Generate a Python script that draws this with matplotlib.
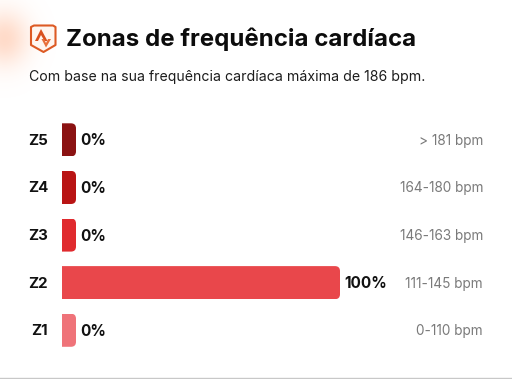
import numpy as np
import matplotlib
matplotlib.use("Agg")
import matplotlib.pyplot as plt
from matplotlib.patches import Polygon, PathPatch
from matplotlib.path import Path

W, H = 512, 379

zones = ["Z5", "Z4", "Z3", "Z2", "Z1"]
percent = [0, 0, 0, 100, 0]
percent_labels = ["0%", "0%", "0%", "100%", "0%"]
ranges = ["> 181 bpm", "164-180 bpm", "146-163 bpm", "111-145 bpm", "0-110 bpm"]
colors = ["#8b1212", "#b91414", "#e02a2e", "#e9474b", "#ef7379"]

plt.rcParams["font.family"] = ["Inter", "DejaVu Sans"]

fig = plt.figure(figsize=(W / 100, H / 100), dpi=100, facecolor="white")

# overlay in pixel coords for header and text
bg = fig.add_axes([0, 0, 1, 1])
bg.set_xlim(0, W)
bg.set_ylim(H, 0)
bg.axis("off")

# peach glow on the left of the header
yy, xx = np.mgrid[0:110, 0:90]
glow = np.exp(-(((xx - 4) / 24.0) ** 2 + ((yy - 38) / 27.0) ** 2))
rgba = np.zeros((110, 90, 4))
rgba[..., 0] = 1.0
rgba[..., 1] = 0.72
rgba[..., 2] = 0.58
rgba[..., 3] = 0.5 * glow
bg.imshow(rgba, extent=(0, 90, 110, 0), aspect="auto", zorder=0)
bg.set_xlim(0, W)
bg.set_ylim(H, 0)

# badge
shield = [(31, 27), (34, 25.5), (53, 25.5), (55.5, 27), (55.5, 45), (43.5, 52), (31, 45)]
bg.add_patch(Polygon(shield, closed=True, fc="#fff6f0", ec="#dd5a24", lw=1.5, joinstyle="round"))
bg.add_patch(Polygon([(41, 29), (47.5, 41), (44.5, 41), (41, 35), (38, 41), (35, 41)], closed=True, fc="#d9501e", ec="none"))
bg.add_patch(Polygon([(44, 39), (46, 43), (48, 39), (51, 39), (46, 47.5), (41.5, 39)], closed=True, fc="#e8703a", ec="none"))

bg.text(66.5, 39, "Zonas de frequência cardíaca", fontsize=17.3, fontweight="bold", color="#0c0c0c", va="center", ha="left")
bg.text(29, 77, "Com base na sua frequência cardíaca máxima de 186 bpm.", fontsize=10.15, color="#1c1c1c", va="center", ha="left")

# bars axes: x runs 0-100 percent over 62-340 px
ax = fig.add_axes([62 / W, 1 - 355 / H, (340 - 62) / W, (355 - 117) / H])
ax.set_xlim(0, 100)
ax.set_ylim(4.52, -0.48)
ax.axis("off")
ax.patch.set_alpha(0)

stub = 14 / 278 * 100
bar_h = 0.695
ys = np.arange(len(zones))
bars = ax.barh(ys, [max(p, stub) for p in percent], height=bar_h, color=colors, linewidth=0)

# round the right corners of each bar
rx = 5 / 278 * 100
ry = 5 / 47.6
for rect in bars:
    x0, y0 = rect.get_x(), rect.get_y()
    x1, y1 = x0 + rect.get_width(), y0 + rect.get_height()
    verts = [(x0, y0), (x1 - rx, y0), (x1, y0), (x1, y0 + ry), (x1, y1 - ry), (x1, y1), (x1 - rx, y1), (x0, y1), (x0, y0)]
    codes = [Path.MOVETO, Path.LINETO, Path.CURVE3, Path.CURVE3, Path.LINETO, Path.CURVE3, Path.CURVE3, Path.LINETO, Path.CLOSEPOLY]
    clip = PathPatch(Path(verts, codes), transform=ax.transData, fc="none", ec="none")
    ax.add_patch(clip)
    rect.set_clip_path(clip)

for y, zone, p, lab, rng in zip(ys, zones, percent, percent_labels, ranges):
    ax.annotate(zone, (0, y), xytext=(-10, -0.7), textcoords="offset points", fontsize=10.8, fontweight="bold", color="#111111", ha="right", va="center")
    ax.annotate(lab, (max(p, stub), y), xytext=(3.4, -0.7), textcoords="offset points", fontsize=11, fontweight="bold", color="#111111", ha="left", va="center")
    ax.annotate(rng, (1, y), xycoords=("axes fraction", "data"), xytext=(103, -0.7), textcoords="offset points", fontsize=9.8, color="#7a7a7a", ha="right", va="center")

# bottom rule
bg.plot([0, W], [378, 378], color="#c8c8c8", lw=1)

fig.savefig("out.png", dpi=100, facecolor="white")
